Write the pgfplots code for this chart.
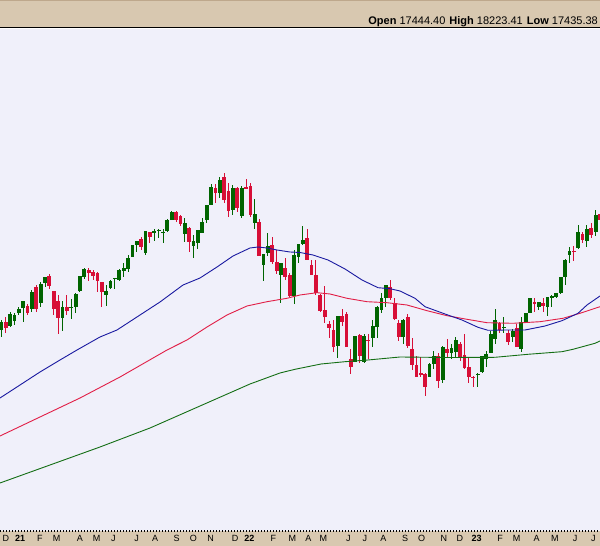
\documentclass[border=0pt]{standalone}
\usepackage{pgfplots}
\pgfplotsset{compat=1.18}
\usepackage{pgfplotstable}
\usepackage{fontspec}
\setmainfont{Liberation Sans}

\definecolor{plotbg}{RGB}{240,240,250}
\definecolor{strip}{RGB}{216,200,176}
\definecolor{stripedge}{RGB}{190,168,140}
\definecolor{upcol}{RGB}{0,100,0}
\definecolor{downcol}{RGB}{215,15,55}
\definecolor{mablue}{RGB}{25,25,160}
\definecolor{mared}{RGB}{225,30,70}
\definecolor{magreen}{RGB}{20,110,20}

% weekly candles: i = week index, price in chart units
\pgfplotstableread{
i o h l c
0 201 211 194 209
1 209 214 198 203
2 205 219 204 217
3 210 218 206 216
4 218 224 216 222
5 223 230 209 230
6 225 227 216 218
7 222 241 219 239
8 244 246 219 222
9 228 249 224 247
10 248 254 244 254
11 255 257 242 245
12 240 240 216 222
13 230 236 197 213
14 213 230 200 224
15 224 236 216 220
16 223 232 212 224
17 224 238 218 237
18 240 255 239 255
19 254 263 252 262
20 261 263 250 258
21 259 261 251 255
22 258 259 239 250
23 249 249 224 239
24 236 246 225 240
25 243 251 242 250
26 252 253 242 253
27 251 262 250 261
28 260 268 254 263
29 262 276 259 273
30 274 286 274 286
31 286 290 279 290
32 292 294 281 284
33 278 300 276 300
34 299 299 288 294
35 298 302 290 300
36 300 302 293 301
37 298 302 288 299
38 300 312 299 311
39 311 320 311 319
40 319 320 309 311
41 315 316 305 307
42 297 313 289 308
43 303 304 279 289
44 285 296 273 290
45 288 301 282 301
46 298 313 298 309
47 311 326 308 326
48 326 347 326 344
49 343 347 328 338
50 338 354 333 351
51 354 358 328 331
52 340 348 314 320
53 321 346 316 343
54 343 344 319 323
55 315 345 313 343
56 344 352 342 342
57 345 348 314 316
58 308 332 302 317
59 309 312 275 275
60 266 277 250 277
61 278 298 275 285
62 286 294 267 269
63 269 281 257 260
64 256 268 228 268
65 263 273 251 254
66 256 258 234 235
67 235 281 227 276
68 274 287 268 287
69 287 305 286 291
70 293 302 271 271
71 266 271 256 256
72 256 271 236 238
73 236 237 219 220
74 221 245 208 214
75 207 210 193 203
76 201 211 179 184
77 185 215 173 215
78 215 222 205 209
79 217 219 184 184
80 172 182 157 164
81 169 195 169 195
82 196 197 168 175
83 169 197 168 195
84 191 197 172 190
85 193 211 184 205
86 204 225 193 224
87 221 238 218 233
88 233 246 224 246
89 244 251 231 233
90 228 233 211 212
91 208 211 190 194
92 194 212 187 211
93 214 217 183 185
94 182 193 161 166
95 166 175 154 154
96 158 174 154 156
97 157 158 135 144
98 154 168 154 167
99 167 180 162 175
100 175 178 143 150
101 151 185 148 184
102 182 192 173 178
103 178 187 172 183
104 179 194 174 191
105 187 189 170 174
106 176 197 162 163
107 164 173 148 154
108 154 155 144 153
109 156 158 144 157
110 159 175 158 175
111 172 180 164 177
112 178 200 178 197
113 192 222 187 211
114 208 209 198 201
115 203 214 198 204
116 198 201 186 189
117 194 202 189 200
118 203 207 184 184
119 182 214 179 209
120 208 218 208 218
121 218 233 218 233
122 229 233 219 227
123 224 229 221 229
124 228 233 219 225
125 224 234 215 234
126 233 236 224 235
127 234 238 233 238
128 238 254 237 254
129 254 272 246 271
130 276 284 268 280
131 280 285 270 279
132 283 306 282 299
133 297 299 288 291
134 290 306 284 302
135 303 308 293 296
136 299 321 295 316
137 317 321 309 311
}\candles

\pgfplotstableread{
i v
-0.3 133
4.28 146
8.85 159
13.43 171
17.32 181
22.58 194
26.47 201
31.74 216
36.31 229
41.58 246
45.47 253
49.36 264
53.02 275
56.91 283
58.74 284
60.80 283
63.09 281
66.06 279
68.35 278.5
71.32 276
74.76 271
78.65 262
82.54 251
86.20 243.3
88.94 242.3
91.23 240
94.67 232.7
96.95 224.3
101.53 217
105.42 211
109.08 203.7
111.37 200.7
115.49 201
119.84 201
124.41 205
128.30 210.3
131.97 217.7
134.02 226
137.00 235
}\mablue

\pgfplotstableread{
i v
-0.3 95
8.85 114
18.01 133
27.16 154
37.92 181
42.49 191
47.07 204
51.64 216
56.22 225
60.80 229.3
65.37 232.7
68.35 236
72.24 238.3
75.21 237
79.11 232.7
83.68 229.3
88.26 228.3
92.83 226
97.41 220.3
101.99 215.3
106.56 211.7
111.14 208.3
117.09 207.7
123.27 209.3
128.53 212.7
132.42 217.7
137.00 224.3
}\mared

\pgfplotstableread{
i v
-0.3 48
11.14 66
22.58 84
34.03 103
45.47 125
56.91 147
63.77 158
67.21 161.7
73.16 167
78.65 169.3
83.91 171
91.23 174
101.99 173.5
112.97 173.7
120.52 176.7
128.30 179.3
130.82 181.7
135.85 187.7
137.00 190
}\magreen

\begin{document}
\begin{tikzpicture}
\useasboundingbox (0pt,0pt) rectangle (600pt,546pt);
% header and footer strips
\fill[strip] (0pt,518pt) rectangle (600pt,546pt);
\draw[stripedge, line width=1pt] (0pt,545.5pt) -- (600pt,545.5pt);
\draw[black, line width=1pt] (0pt,518pt) -- (600pt,518pt);
\fill[strip] (0pt,0pt) rectangle (600pt,15pt);
\node[anchor=base east, inner sep=0pt, font=\fontsize{11}{12}\selectfont]
  at (598pt,521.5pt) {\textbf{Open} 17444.40\hspace{4pt}\textbf{High} 18223.41\hspace{4pt}\textbf{Low} 17435.38};

\begin{axis}[
  at={(0pt,15pt)}, anchor=south west, scale only axis,
  width=600pt, height=502pt,
  xmin=-0.3, xmax=137, ymin=0, ymax=502,
  axis background/.style={fill=plotbg},
  axis line style={draw=none},
  ytick=\empty,
  xtick={1.07,4.28,8.85,12.67,18.0,21.83,25.63,30.98,35.17,40.13,43.93,47.91,53.48,56.75,62.24,66.59,70.25,73.68,79.40,83.22,87.41,92.38,96.19,101.30,104.96,108.78,114.12,117.94,122.52,126.70,131.28,135.47},
  xticklabels={D,\textbf{21},F,M,A,M,J,J,A,S,O,N,D,\textbf{22},F,M,A,M,J,J,A,S,O,N,D,\textbf{23},F,M,A,M,J,J},
  major tick length=0pt,
  xticklabel style={anchor=base, yshift=-10.5pt, inner sep=0pt, font=\fontsize{9}{10}\selectfont},
  candle/.style={draw=none, mark=none, forget plot,
    error bars/y dir=plus, error bars/y explicit, error bars/error mark=none},
]
% wicks
\addplot[candle,
  restrict expr to domain={\thisrow{c}-\thisrow{o}}{0:1000},
  error bars/error bar style={draw=upcol, line width=1pt}]
  table[x=i, y=l, y error plus expr=\thisrow{h}-\thisrow{l}] {\candles};
\addplot[candle,
  restrict expr to domain={\thisrow{o}-\thisrow{c}}{1:1000},
  error bars/error bar style={draw=downcol, line width=1pt}]
  table[x=i, y=l, y error plus expr=\thisrow{h}-\thisrow{l}] {\candles};
% bodies
\addplot[candle,
  restrict expr to domain={\thisrow{c}-\thisrow{o}}{0:1000},
  error bars/error bar style={draw=upcol, line width=3.8pt}]
  table[x=i, y=o, y error plus expr={max(\thisrow{c}-\thisrow{o},1)}] {\candles};
\addplot[candle,
  restrict expr to domain={\thisrow{o}-\thisrow{c}}{1:1000},
  error bars/error bar style={draw=downcol, line width=3.8pt}]
  table[x=i, y=c, y error plus expr=\thisrow{o}-\thisrow{c}] {\candles};
% moving averages
\addplot[magreen, line width=0.9pt, mark=none] table[x=i, y=v] {\magreen};
\addplot[mared, line width=0.9pt, mark=none] table[x=i, y=v] {\mared};
\addplot[mablue, line width=0.9pt, mark=none] table[x=i, y=v] {\mablue};
\end{axis}
\draw[black, line width=1.6pt, dash pattern=on 1pt off 2pt] (0pt,15pt) -- (600pt,15pt);
\end{tikzpicture}
\end{document}
